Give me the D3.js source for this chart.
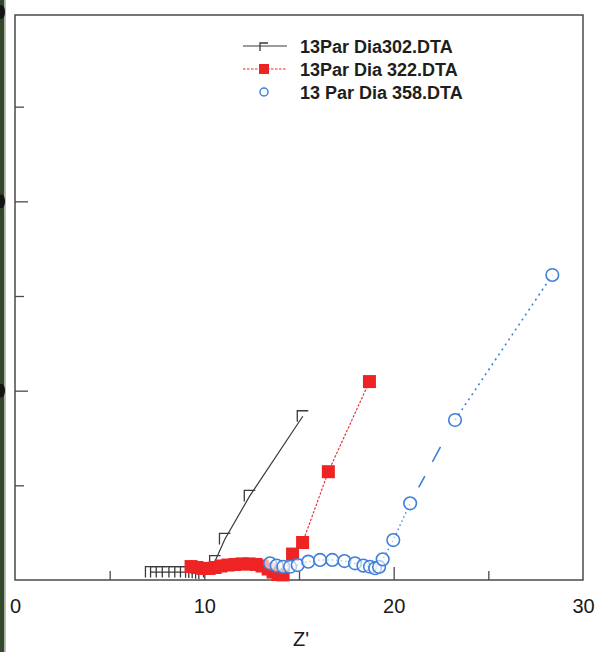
<!DOCTYPE html>
<html>
<head>
<meta charset="utf-8">
<script src="https://cdn.jsdelivr.net/npm/d3@7/dist/d3.min.js"></script>
<style>
  body { margin: 0; background: #fff; }
  text { font-family: "Liberation Sans", Arial, sans-serif; }
</style>
</head>
<body>
<svg id="chart" width="599" height="652"></svg>
<script>
// Nyquist plot: Z' on x, -Z'' on y (same units on both axes)
const xTickLabels = [0, 10, 20, 30];
const yLabelMarks = [10, 20, 30];
const xMajorTicks = [10, 20];
const xMinorTicks = [5, 15, 25];
const yMajorTicks = [10, 20];
const yMinorTicks = [5, 15, 25];
const xTitle = "Z'";
const seriesNames = ["13Par Dia302.DTA", "13Par Dia 322.DTA", "13 Par Dia 358.DTA"];

// 13Par Dia302
const dia302X = [7.18, 7.45, 7.75, 8.07, 8.42, 8.73, 9.03, 9.30, 9.47, 9.65, 9.83, 10.0, 10.25, 10.57, 11.09, 12.40, 15.20];
const dia302Y = [0.42, 0.42, 0.42, 0.42, 0.42, 0.42, 0.42, 0.41, 0.40, 0.38, 0.36, 0.34, 0.42, 1.00, 2.17, 4.44, 8.65];

// 13Par Dia 322
const dia322X = [9.30, 9.61, 9.93, 10.25, 10.57, 10.88, 11.25, 11.62, 11.99, 12.36, 12.73, 13.05, 13.37, 13.63, 13.89, 14.16, 14.66, 15.19, 16.55, 18.72];
const dia322Y = [0.71, 0.66, 0.61, 0.61, 0.66, 0.74, 0.79, 0.82, 0.85, 0.85, 0.82, 0.74, 0.58, 0.42, 0.29, 0.27, 1.37, 1.98, 5.72, 10.48];

// 13 Par Dia 358
const dia358X = [13.47, 13.82, 14.17, 14.53, 14.93, 15.49, 16.11, 16.76, 17.40, 17.96, 18.40, 18.75, 19.02, 19.23, 19.42, 19.98, 20.87, 23.24, 28.38];
const dia358Y = [0.88, 0.76, 0.70, 0.70, 0.79, 0.97, 1.06, 1.06, 1.00, 0.88, 0.76, 0.70, 0.62, 0.69, 1.09, 2.11, 4.05, 8.45, 16.11];

const svg = d3.select("#chart");
const plotL = 15, plotR = 583, plotT = 15, plotB = 580;
const x = d3.scaleLinear().domain([0, 30]).range([plotL, plotR]);
const pxPerUnit = (plotR - plotL) / 30;
const y = d3.scaleLinear().domain([0, (plotB - plotT) / pxPerUnit]).range([plotB, plotT]);

// dark trimmed edge on the far left
svg.append("rect").attr("x", 0).attr("y", 0).attr("width", 4.5).attr("height", 652).attr("fill", "#34472d");
svg.append("rect").attr("x", 4.5).attr("y", 0).attr("width", 1.5).attr("height", 652).attr("fill", "#b9c2b2");
// dark spots on that edge at the y label rows
svg.append("g").selectAll("ellipse").data(yLabelMarks).join("ellipse")
  .attr("cx", 1.5).attr("cy", d => y(d)).attr("rx", 3.5).attr("ry", 7)
  .attr("fill", "#141414");

const frameColor = "#4a4a4a";

// ticks (inward)
function tickAxis(gen, vals, size, tx, ty) {
  const g = svg.append("g").attr("transform", `translate(${tx},${ty})`)
    .call(gen.tickValues(vals).tickSizeInner(-size).tickSizeOuter(0).tickFormat(""));
  g.select(".domain").remove();
  g.selectAll(".tick line").attr("stroke", frameColor).attr("stroke-width", 1.3);
  return g;
}
tickAxis(d3.axisBottom(x), xMajorTicks, 13, 0, plotB);
tickAxis(d3.axisBottom(x), xMinorTicks, 9, 0, plotB);
tickAxis(d3.axisLeft(y), yMajorTicks, 13, plotL, 0);
tickAxis(d3.axisLeft(y), yMinorTicks, 9, plotL, 0);

// x tick labels
const xl = svg.append("g").attr("transform", `translate(0,${plotB})`)
  .call(d3.axisBottom(x).tickValues(xTickLabels).tickSize(0).tickPadding(19).tickFormat(d3.format("d")));
xl.select(".domain").remove();
xl.selectAll("text").attr("font-size", 20).attr("fill", "#1a1a1a")
  .style("font-family", "'Liberation Sans', Arial, sans-serif");

svg.append("text").attr("x", (plotL + plotR) / 2 + 2).attr("y", 646)
  .attr("text-anchor", "middle").attr("font-size", 20).attr("fill", "#1a1a1a").text(xTitle);

// plot frame
svg.append("rect").attr("x", plotL).attr("y", plotT).attr("width", plotR - plotL).attr("height", plotB - plotT)
  .attr("fill", "none").attr("stroke", frameColor).attr("stroke-width", 1.5);

const line = d3.line().x(d => x(d[0])).y(d => y(d[1]));
const s302 = dia302X.map((v, i) => [v, dia302Y[i]]);
const s322 = dia322X.map((v, i) => [v, dia322Y[i]]);
const s358 = dia358X.map((v, i) => [v, dia358Y[i]]);

const black = "#3a3a3a", red = "#ee2424", blue = "#3f80d8";

// half-open square marker (left and top edges)
const gamma = s => `M${-s/2},${s/2}V${-s/2}H${s/2}`;

// series 302: solid line with half-open square markers
svg.append("path").datum(s302).attr("d", line).attr("fill", "none")
  .attr("stroke", black).attr("stroke-width", 1.2);
svg.append("g").selectAll("path").data(s302).join("path")
  .attr("transform", d => `translate(${x(d[0])},${y(d[1])})`)
  .attr("d", gamma(11)).attr("fill", "none").attr("stroke", black).attr("stroke-width", 1.3);

// series 322: dotted red line with filled squares
svg.append("path").datum(s322).attr("d", line).attr("fill", "none")
  .attr("stroke", red).attr("stroke-width", 1.1).attr("stroke-dasharray", "2.5,1.5");
const sq = 13;
svg.append("g").selectAll("rect").data(s322).join("rect")
  .attr("x", d => x(d[0]) - sq / 2).attr("y", d => y(d[1]) - sq / 2)
  .attr("width", sq).attr("height", sq).attr("fill", red);

// series 358: broken blue line with open circles
const dashEnd = s358.length - 2;
svg.append("path").datum(s358.slice(0, dashEnd)).attr("d", line).attr("fill", "none")
  .attr("stroke", blue).attr("stroke-width", 1.4).attr("stroke-dasharray", "1.5,3");
svg.append("path").datum(s358.slice(dashEnd - 1, dashEnd + 1)).attr("d", line).attr("fill", "none")
  .attr("stroke", blue).attr("stroke-width", 1.6).attr("stroke-dasharray", "0,18,13,16,17,200");
svg.append("path").datum(s358.slice(dashEnd)).attr("d", line).attr("fill", "none")
  .attr("stroke", blue).attr("stroke-width", 1.6).attr("stroke-dasharray", "2,4");
svg.append("g").selectAll("circle").data(s358).join("circle")
  .attr("cx", d => x(d[0])).attr("cy", d => y(d[1])).attr("r", 6.3)
  .attr("fill", "#fff").attr("fill-opacity", 0.6).attr("stroke", blue).attr("stroke-width", 1.6);

// legend
const lg = svg.append("g");
const rows = [46, 69, 92];
const lx0 = 243, lx1 = 287, mx = 264, tx = 300;
lg.append("line").attr("x1", lx0).attr("x2", lx1).attr("y1", rows[0]).attr("y2", rows[0])
  .attr("stroke", black).attr("stroke-width", 1.2);
lg.append("path").attr("transform", `translate(${mx},${rows[0] + 1})`).attr("d", gamma(8))
  .attr("fill", "none").attr("stroke", black).attr("stroke-width", 1.3);
lg.append("line").attr("x1", lx0).attr("x2", lx1).attr("y1", rows[1]).attr("y2", rows[1])
  .attr("stroke", red).attr("stroke-width", 1.1).attr("stroke-dasharray", "2.5,1.5");
lg.append("rect").attr("x", mx - 5).attr("y", rows[1] - 5).attr("width", 10).attr("height", 10).attr("fill", red);
lg.append("circle").attr("cx", mx).attr("cy", rows[2]).attr("r", 4)
  .attr("fill", "none").attr("stroke", blue).attr("stroke-width", 1.5);
lg.selectAll("text.name").data(seriesNames).join("text").attr("class", "name")
  .attr("x", tx).attr("y", (d, i) => rows[i] + 6.5)
  .attr("font-size", 18).attr("font-weight", "bold").attr("fill", "#1e1e1e").text(d => d);
</script>
</body>
</html>
